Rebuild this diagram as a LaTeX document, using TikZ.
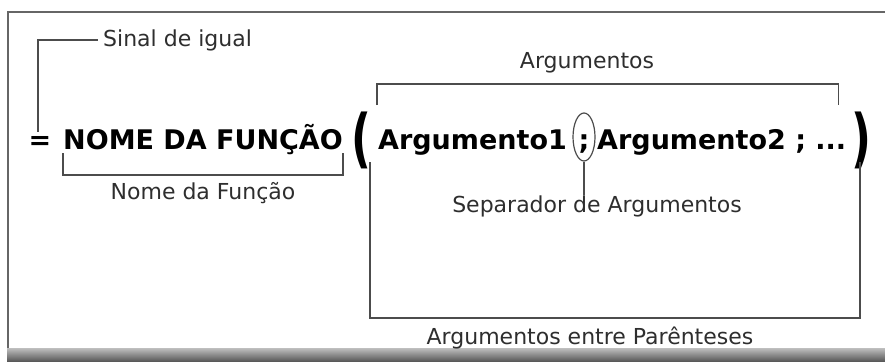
\documentclass[tikz,border=0pt]{standalone}
\usepackage{fontspec}
\setmainfont{DejaVu Sans}
\usetikzlibrary{positioning,calc,shapes.geometric}

\begin{document}
\begin{tikzpicture}[
    x=1pt, y=-1pt,
    formula/.style={font=\bfseries\fontsize{27}{30}\selectfont, inner sep=0pt, anchor=base west},
    paren/.style={font=\bfseries\fontsize{64}{70}\selectfont, inner sep=0pt},
    lbl/.style={font=\fontsize{22}{24}\selectfont, text=black!82, inner sep=0pt},
    brk/.style={draw=black!70, line width=1.6pt},
    ring/.style={ellipse, draw=black!70, line width=1.2pt, minimum width=22pt, minimum height=48pt, inner sep=0pt}
]
    \useasboundingbox (0,0) rectangle (885,361);
    % frame
    \shade[top color=black!25, bottom color=black!65] (7,348) rectangle (885,361);
    \draw[black!60, line width=1.6pt] (885,12) -- (8,12) -- (8,348);

    % formula
    \node[formula, anchor=base] (eq) at (40,149) {=};
    \node[formula] (nome) at (63,149) {NOME DA FUNÇÃO};
    \node[paren] (lpar) at (361,140) {\scalebox{0.68}[1]{(}};
    \node[formula] (arg1) at (378,149) {Argumento1};
    \node[formula, anchor=base] (semi) at (584,149) {;};
    \node[ring] (sepring) at (584,137) {};
    \node[formula] (arg2) at (597,149) {Argumento2 ; ...};
    \node[paren] (rpar) at (861,140) {\scalebox{0.68}[1]{)}};

    % sinal de igual
    \node[lbl, anchor=west] (sinal) at (103,40) {Sinal de igual};
    \draw[brk] ([xshift=-2pt, yshift=4pt]eq.north) |- ([xshift=-5pt]sinal.west);

    % nome da funcao
    \coordinate (nomebr) at ($(nome.base)+(0,26)$);
    \draw[brk] ($(nome.base west)+(0,4)$) -- ($(nome.base west)+(0,26)$) -- ($(nome.base east)+(0,26)$) -- ($(nome.base east)+(0,4)$);
    \node[lbl, below=7pt of nomebr] (nomelbl) {Nome da Função};

    % argumentos
    \coordinate (argl) at ($(arg1.base west)+(-1,-44)$);
    \coordinate (argr) at ($(arg2.base east)+(-8,-44)$);
    \draw[brk] (argl) -- ++(0,-21) -| (argr);
    \node[lbl] (arglbl) at (587,63) {Argumentos};

    % separador
    \node[lbl] (seplbl) at (597,206) {Separador de Argumentos};
    \draw[brk] (sepring.south) -- (sepring.south |- seplbl.north);

    % parenteses
    \coordinate (parl) at (370,162);
    \coordinate (parr) at (860,162);
    \draw[brk] (parl) -- ++(0,156) -| (parr);
    \node[lbl] (parlbl) at (590,338) {Argumentos entre Parênteses};
\end{tikzpicture}
\end{document}
